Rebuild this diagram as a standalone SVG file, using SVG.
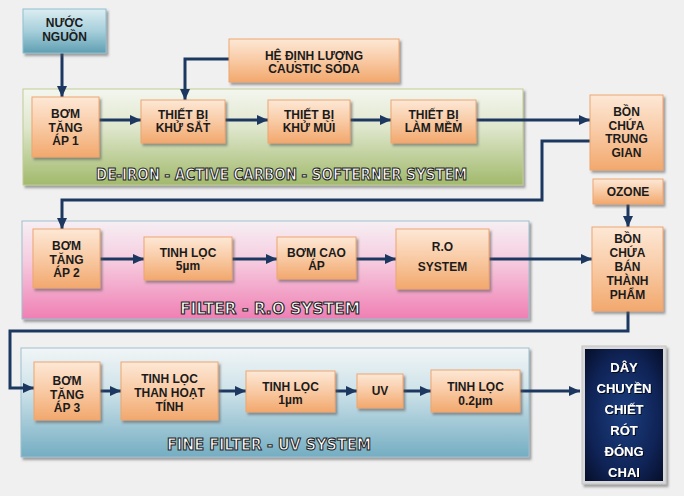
<svg xmlns="http://www.w3.org/2000/svg" width="684" height="496" viewBox="0 0 684 496">
<defs>
<linearGradient id="gOr" x1="0" y1="0" x2="0" y2="1">
<stop offset="0" stop-color="#fde8d6"/><stop offset="0.45" stop-color="#f9cda9"/><stop offset="1" stop-color="#f2a86d"/>
</linearGradient>
<linearGradient id="gTeal" x1="0" y1="0" x2="0" y2="1">
<stop offset="0" stop-color="#dcedf2"/><stop offset="0.5" stop-color="#a6cfdb"/><stop offset="1" stop-color="#5f9fb2"/>
</linearGradient>
<linearGradient id="gGreen" x1="0" y1="0" x2="0" y2="1">
<stop offset="0" stop-color="#f4f6ef"/><stop offset="0.4" stop-color="#dfe7cd"/><stop offset="1" stop-color="#a1b96b"/>
</linearGradient>
<linearGradient id="gPink" x1="0" y1="0" x2="0" y2="1">
<stop offset="0" stop-color="#f6eff3"/><stop offset="0.4" stop-color="#f6cde0"/><stop offset="1" stop-color="#ef7fb3"/>
</linearGradient>
<linearGradient id="gBlue" x1="0" y1="0" x2="0" y2="1">
<stop offset="0" stop-color="#f1f5f6"/><stop offset="0.4" stop-color="#cde2e9"/><stop offset="1" stop-color="#74adc2"/>
</linearGradient>
<radialGradient id="gNavy" cx="0.5" cy="0.5" r="0.75">
<stop offset="0" stop-color="#1c3f80"/><stop offset="0.6" stop-color="#0f2356"/><stop offset="1" stop-color="#050b22"/>
</radialGradient>
<filter id="sh" x="-10%" y="-10%" width="130%" height="130%">
<feDropShadow dx="2" dy="2.5" stdDeviation="1.2" flood-color="#555" flood-opacity="0.55"/>
</filter>
<filter id="tsh" x="-10%" y="-20%" width="120%" height="150%">
<feDropShadow dx="1" dy="1" stdDeviation="0.5" flood-color="#000" flood-opacity="0.8"/>
</filter>
<marker id="ah" markerUnits="userSpaceOnUse" markerWidth="12" markerHeight="10" refX="11" refY="5" orient="auto">
<path d="M0,0 L11,5 L0,10 Z" fill="#1c3860"/>
</marker>
</defs>
<style>
.n{fill:url(#gOr);stroke:#eea570;stroke-width:1;filter:url(#sh)}
.t{font-family:"Liberation Sans",Arial,sans-serif;font-weight:bold;font-size:12px;fill:#1b1b1b;text-anchor:middle}
.pl{font-family:"DejaVu Sans",Verdana,sans-serif;font-weight:bold;font-size:15px;fill:#ffffff;stroke:#262626;stroke-width:1.1;text-anchor:start}
.c{fill:none;stroke:#1c3860;stroke-width:3;marker-end:url(#ah)}
.w{font-family:"Liberation Sans",Arial,sans-serif;font-weight:bold;font-size:13px;fill:#ffffff;text-anchor:middle;filter:url(#tsh)}
</style>
<rect x="0" y="0" width="684" height="496" fill="#f0f0f0"/>

<g id="panel-deiron">
<rect x="23" y="89" width="500" height="96" fill="url(#gGreen)" stroke="#c0cd95" stroke-width="1" filter="url(#sh)"/>
<text class="pl" x="96" y="180" textLength="371" lengthAdjust="spacingAndGlyphs">DE-IRON - ACTIVE CARBON - SOFTERNER SYSTEM</text>
</g>
<g id="panel-ro">
<rect x="22" y="221" width="507" height="98" fill="url(#gPink)" stroke="#9fbfd0" stroke-width="1" filter="url(#sh)"/>
<text class="pl" x="180" y="314" textLength="180" lengthAdjust="spacingAndGlyphs">FILTER - R.O SYSTEM</text>
</g>
<g id="panel-uv">
<rect x="21" y="348" width="508" height="109" fill="url(#gBlue)" stroke="#9fbfd0" stroke-width="1" filter="url(#sh)"/>
<text class="pl" x="167" y="450" textLength="204" lengthAdjust="spacingAndGlyphs">FINE FILTER - UV SYSTEM</text>
</g>

<g id="connectors">
<path class="c" d="M62,53 V97"/>
<path class="c" d="M229,59 H185 V100"/>
<path class="c" d="M99,120 H141"/>
<path class="c" d="M225,120 H268"/>
<path class="c" d="M350,120 H391"/>
<path class="c" d="M476,120 H590"/>
<path class="c" d="M590,141 H542 V200 H62 V229"/>
<path class="c" d="M628,204 V227"/>
<path class="c" d="M100,259 H144"/>
<path class="c" d="M232,259 H277"/>
<path class="c" d="M356,259 H396"/>
<path class="c" d="M489,259 H592"/>
<path class="c" d="M628,311 V331 H10 V388 H34"/>
<path class="c" d="M100,391 H121"/>
<path class="c" d="M218,391 H246"/>
<path class="c" d="M335,391 H357"/>
<path class="c" d="M403,391 H431"/>
<path class="c" d="M520,391 H580"/>
</g>

<g id="nuoc-nguon">
<rect x="23" y="9" width="83" height="44" fill="url(#gTeal)" stroke="#8fbfcd" stroke-width="1" filter="url(#sh)"/>
<text class="t" x="64.5" y="27">NƯỚC</text>
<text class="t" x="64.5" y="41">NGUỒN</text>
</g>
<g id="caustic-soda">
<rect class="n" x="229" y="39" width="170" height="43"/>
<text class="t" x="314" y="60">HỆ ĐỊNH LƯỢNG</text>
<text class="t" x="314" y="73">CAUSTIC SODA</text>
</g>
<g id="bom-ap-1">
<rect class="n" x="32" y="97" width="67" height="60"/>
<text class="t" x="65.5" y="118">BƠM</text>
<text class="t" x="65.5" y="132">TĂNG</text>
<text class="t" x="65.5" y="145">ÁP 1</text>
</g>
<g id="khu-sat">
<rect class="n" x="141" y="100" width="84" height="43"/>
<text class="t" x="183" y="119">THIẾT BỊ</text>
<text class="t" x="183" y="132">KHỬ SẮT</text>
</g>
<g id="khu-mui">
<rect class="n" x="268" y="100" width="82" height="43"/>
<text class="t" x="309" y="119">THIẾT BỊ</text>
<text class="t" x="309" y="132">KHỬ MÙI</text>
</g>
<g id="lam-mem">
<rect class="n" x="391" y="100" width="85" height="43"/>
<text class="t" x="433.5" y="119">THIẾT BỊ</text>
<text class="t" x="433.5" y="132">LÀM MỀM</text>
</g>
<g id="bon-trung-gian">
<rect class="n" x="590" y="95" width="73" height="75"/>
<text class="t" x="626.5" y="116">BỒN</text>
<text class="t" x="626.5" y="130">CHỨA</text>
<text class="t" x="626.5" y="143">TRUNG</text>
<text class="t" x="626.5" y="157">GIAN</text>
</g>
<g id="ozone">
<rect class="n" x="593" y="179" width="70" height="25"/>
<text class="t" x="628" y="196">OZONE</text>
</g>
<g id="bon-ban-thanh-pham">
<rect class="n" x="592" y="227" width="71" height="84"/>
<text class="t" x="627.5" y="243">BỒN</text>
<text class="t" x="627.5" y="257">CHỨA</text>
<text class="t" x="627.5" y="271">BÁN</text>
<text class="t" x="627.5" y="285">THÀNH</text>
<text class="t" x="627.5" y="299">PHẨM</text>
</g>
<g id="bom-ap-2">
<rect class="n" x="33" y="229" width="67" height="59"/>
<text class="t" x="66.5" y="250">BƠM</text>
<text class="t" x="66.5" y="264">TĂNG</text>
<text class="t" x="66.5" y="277">ÁP 2</text>
</g>
<g id="tinh-loc-5">
<rect class="n" x="144" y="237" width="88" height="43"/>
<text class="t" x="188" y="257">TINH LỌC</text>
<text class="t" x="188" y="270">5µm</text>
</g>
<g id="bom-cao-ap">
<rect class="n" x="277" y="237" width="79" height="42"/>
<text class="t" x="316.5" y="257">BƠM CAO</text>
<text class="t" x="316.5" y="270">ÁP</text>
</g>
<g id="ro-system">
<rect class="n" x="396" y="229" width="93" height="60"/>
<text class="t" x="442.5" y="251">R.O</text>
<text class="t" x="442.5" y="271">SYSTEM</text>
</g>
<g id="bom-ap-3">
<rect class="n" x="34" y="362" width="66" height="58"/>
<text class="t" x="67" y="385">BƠM</text>
<text class="t" x="67" y="399">TĂNG</text>
<text class="t" x="67" y="412">ÁP 3</text>
</g>
<g id="than-hoat-tinh">
<rect class="n" x="121" y="362" width="97" height="58"/>
<text class="t" x="169.5" y="383">TINH LỌC</text>
<text class="t" x="169.5" y="397">THAN HOẠT</text>
<text class="t" x="169.5" y="411">TÍNH</text>
</g>
<g id="tinh-loc-1">
<rect class="n" x="246" y="371" width="89" height="41"/>
<text class="t" x="290.5" y="391">TINH LỌC</text>
<text class="t" x="290.5" y="404">1µm</text>
</g>
<g id="uv">
<rect class="n" x="357" y="374" width="46" height="34"/>
<text class="t" x="380" y="395">UV</text>
</g>
<g id="tinh-loc-02">
<rect class="n" x="431" y="370" width="89" height="42"/>
<text class="t" x="475.5" y="391">TINH LỌC</text>
<text class="t" x="475.5" y="405">0.2µm</text>
</g>
<g id="day-chuyen">
<rect x="582" y="346" width="84" height="138" fill="#d9d9d9" stroke="#c4c4c4" stroke-width="1" filter="url(#sh)"/>
<rect x="585" y="349" width="78" height="132" fill="url(#gNavy)"/>
<text class="w" x="624" y="372">DÂY</text>
<text class="w" x="624" y="393">CHUYỀN</text>
<text class="w" x="624" y="414">CHIẾT</text>
<text class="w" x="624" y="435">RÓT</text>
<text class="w" x="624" y="456">ĐÓNG</text>
<text class="w" x="624" y="477">CHAI</text>
</g>
</svg>
